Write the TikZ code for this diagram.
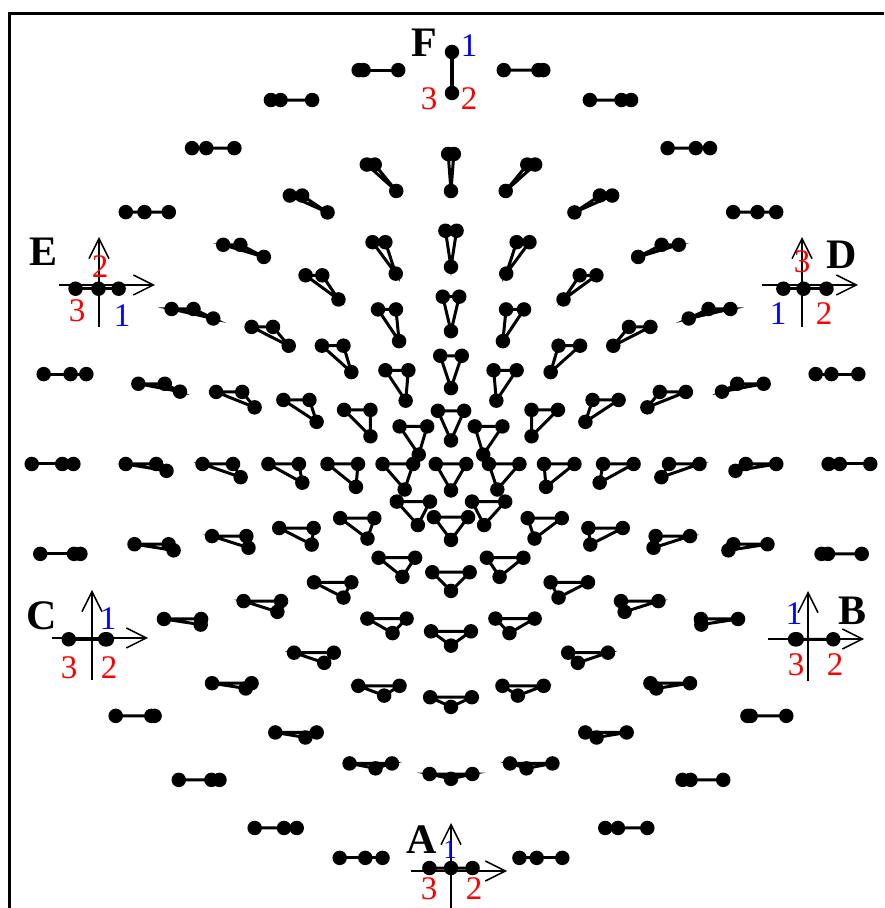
\documentclass[tikz,border=0pt]{standalone}
\usepackage{fontspec}
\setmainfont{Liberation Serif}
\usepackage{xcolor}
\usetikzlibrary{arrows.meta}

\newcommand\viewaxes[2]{%
  \coordinate (#1) at (#2);
  \draw[axis] ([xshift=-40pt]#1) -- ([xshift=56pt]#1);
  \draw[axis] ([yshift=-42pt]#1) -- ([yshift=48pt]#1);
}

\begin{document}
\begin{tikzpicture}[
  x=1pt, y=1pt,
  dot/.style={circle, fill=black, inner sep=0pt, minimum size=14.5pt},
  edge/.style={line width=3pt},
  axis/.style={line width=1.5pt, -{Straight Barb[length=20pt, width=20pt]}},
  frame/.style={line width=3pt},
  view/.style={inner sep=0pt, font=\fontsize{42}{42}\selectfont\bfseries},
  num/.style={inner sep=0pt, text=red, font=\fontsize{33}{33}\selectfont},
  bnum/.style={num, text=blue}
]
  \useasboundingbox (0,0) rectangle (884,908);
  \draw[frame] (9,0) -- (9,894.5) -- (884,894.5);

  \foreach \k/\n in {0/1,1/8,2/12,3/16,4/20,5/24,6/28}{
    \foreach \j in {1,...,\n}{
      \ifnum\numexpr100*\k+\j\relax=607 \else
        \pgfmathsetmacro\ang{360*\j/\n}
        \pgfmathsetmacro\rad{tan(7.5*\k)}
        \pgfmathsetmacro\wx{\rad*cos(\ang)}
        \pgfmathsetmacro\wy{\rad*sin(\ang)}
        \pgfmathsetmacro\den{\wx*\wx+(\wy-1)*(\wy-1)}
        \pgfmathsetmacro\zx{-1.7320508*\wx/\den}
        \pgfmathsetmacro\zy{0.8660254*(\wx*\wx+\wy*\wy-1)/\den}
        \pgfmathsetmacro\fs{30.5/sqrt(0.5+(\zx*\zx+\zy*\zy)*2/3)}
        \coordinate (m) at ({451+404*\wx},{444+404*\wy});
        \coordinate (p1) at ({451+404*\wx+\fs*\zx},{444+404*\wy+\fs*\zy});
        \coordinate (p2) at ({451+404*\wx+\fs/2},{444+404*\wy});
        \coordinate (p3) at ({451+404*\wx-\fs/2},{444+404*\wy});
        \draw[edge] (p1) -- (p2) -- (p3) -- cycle;
        \foreach \v in {1,2,3} \node[dot] at (p\v) {};
      \fi
    }
  }

  \coordinate (f1) at (452,856);
  \coordinate (f23) at (452,815);
  \draw[edge, line width=3.5pt] (f1) -- (f23);
  \node[dot] at (f1) {};
  \node[dot] at (f23) {};

  \viewaxes{oE}{99,623}
  \viewaxes{oD}{802,623}
  \viewaxes{oC}{92,270}
  \viewaxes{oB}{808,269}
  \viewaxes{oA}{451,37}

  \node[view] (lF) at (424,865) {F};
  \node[bnum] (nF1) at (469,862) {1};
  \node[num] (nF3) at (429,809) {3};
  \node[num] (nF2) at (469,809) {2};

  \node[view] (lE) at (44,656) {E};
  \node[num] (nE2) at (100,641) {2};
  \node[num] (nE3) at (77,597) {3};
  \node[bnum] (nE1) at (122,592) {1};

  \node[view] (lD) at (842,653) {D};
  \node[num] (nD3) at (802,646) {3};
  \node[bnum] (nD1) at (778,594) {1};
  \node[num] (nD2) at (824,594) {2};

  \node[view] (lC) at (42,292) {C};
  \node[bnum] (nC1) at (108,289) {1};
  \node[num] (nC3) at (69,240) {3};
  \node[num] (nC2) at (109,240) {2};

  \node[view] (lB) at (852,297) {B};
  \node[bnum] (nB1) at (794,294) {1};
  \node[num] (nB3) at (796,243) {3};
  \node[num] (nB2) at (835,243) {2};

  \node[view] (lA) at (422,68) {A};
  \node[bnum, font=\fontsize{27}{27}\selectfont] (nA1) at (450,58) {1};
  \node[num] (nA3) at (429,19) {3};
  \node[num] (nA2) at (474,19) {2};
\end{tikzpicture}
\end{document}
